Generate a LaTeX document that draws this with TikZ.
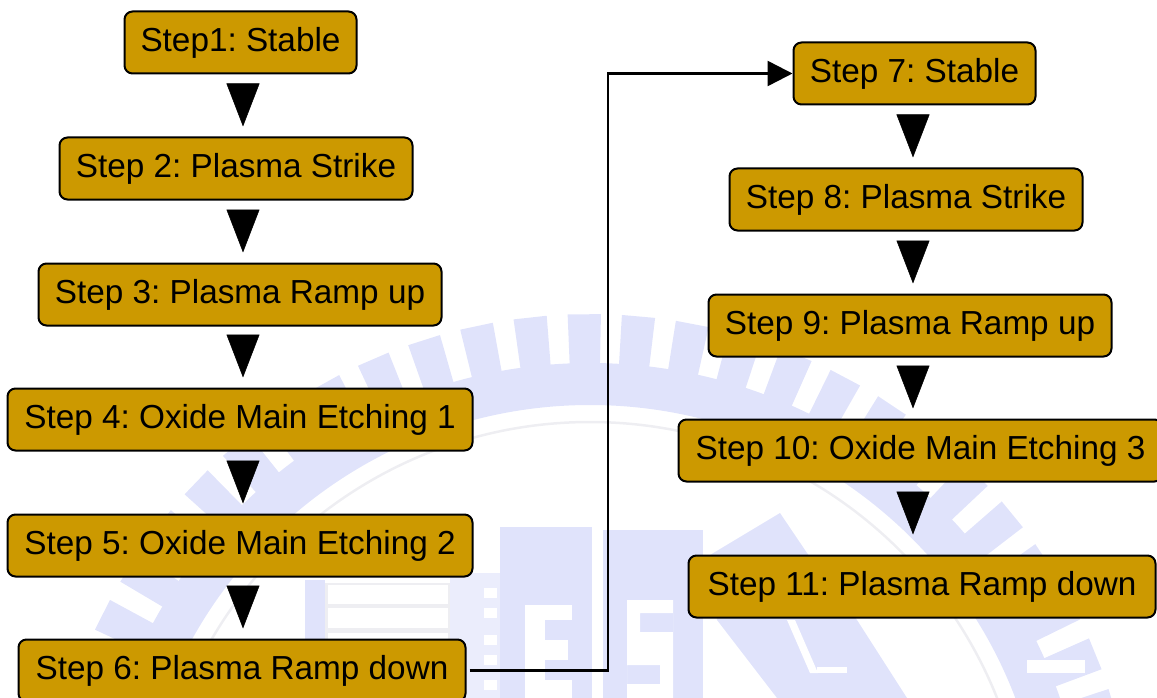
\documentclass[tikz,border=0pt]{standalone}
\usepackage{fontspec}
\setmainfont{Liberation Sans}
\usetikzlibrary{arrows.meta,calc}
\definecolor{boxfill}{HTML}{CC9900}
\definecolor{wm}{HTML}{E0E3FB}
\definecolor{wmlight}{HTML}{EBEDFC}
\definecolor{wmgrey}{HTML}{EEEEF2}
\tikzset{
  x=1pt,y=-1pt,
  stepbox/.style={draw=black,line width=2pt,rounded corners=8pt,fill=boxfill,inner sep=0pt,
    font=\fontsize{33.3}{38}\selectfont,text=black,anchor=center},
  flowarrow/.style={line width=0.5pt,-{Triangle[length=43pt,width=33pt,sep=0pt]}},
  jumpline/.style={line width=2.5pt,-{Triangle[length=25pt,width=25pt,sep=0pt]},shorten <=3pt},
}
\newcommand{\stepnode}[6]{%
  \pgfmathsetmacro{\cxx}{(#2+#4)/2}\pgfmathsetmacro{\cyy}{(#3+#5)/2}%
  \pgfmathsetmacro{\ww}{#4-#2-1}\pgfmathsetmacro{\hh}{#5-#3-1}%
  \node[stepbox,minimum width=\ww pt,minimum height=\hh pt] (#1) at (\cxx,\cyy) {#6};}
\begin{document}
\frenchspacing
\begin{tikzpicture}
\useasboundingbox (0,0) rectangle (1157,698);
\clip (0,0) rectangle (1157,698);
% pale watermark behind the diagram
\begin{scope}
  \coordinate (wc) at (590,860);
  \foreach \k in {-14,...,14}{
    \pgfmathsetmacro{\a}{-90.6+\k*5.7}
    \fill[wm] ($(wc)+(\a-1.75:490)$) -- ($(wc)+(\a-1.75:546)$) -- ($(wc)+(\a+1.75:546)$) -- ($(wc)+(\a+1.75:490)$) -- cycle;
  }
  \fill[wm,even odd rule] (wc) circle[radius=497] (wc) circle[radius=455];
  \draw[wmgrey,line width=2.5pt] (wc) circle[radius=438];
  % central block
  \fill[wm] (500,527) rectangle (592,698);
  \fill[wm] (603,530) rectangle (703,698);
  \fill[wmlight] (450,573) rectangle (500,698);
  % left panel
  \fill[wm] (305,580) rectangle (325,698);
  \fill[wmgrey] (325,583) rectangle (450,698);
  \fill[white] (328,585) rectangle (448,604);
  \fill[white] (328,608) rectangle (448,628);
  \fill[white] (328,633) rectangle (448,698);
  % dots
  \foreach \y in {593,613,640,660,685}
    \fill[white] (484,\y-5) rectangle (497,\y+5);
  % letter-like marks
  \fill[white] (525,605) rectangle (572,620);
  \fill[white] (525,640) rectangle (568,660);
  \fill[white] (525,680) rectangle (572,698);
  \fill[white] (525,605) rectangle (545,698);
  \fill[white,even odd rule] (627,600) rectangle (673,698) (640,613) rectangle (673,632) (627,665) rectangle (660,684);
  % A-shaped mark
  \fill[wm] (780,513) -- (710,555) -- (717,620) -- (777,698) -- (907,698) -- (857,620) -- (807,553) -- cycle;
  \fill[white] (787,620) -- (795,620) -- (818,673) -- (810,673) -- cycle;
  \fill[white] (817,667) rectangle (847,673);
  % notches in the band
  \fill[white] (1027,660) rectangle (1085,673);
\end{scope}
\stepnode{n1}{124}{11}{357}{74}{Step1: Stable}
\stepnode{n2}{59}{137}{413}{200}{Step 2: Plasma Strike}
\stepnode{n3}{38}{263}{442}{326}{Step 3: Plasma Ramp up}
\stepnode{n4}{7}{388}{473}{451}{Step 4: Oxide Main Etching 1}
\stepnode{n5}{7}{514}{473}{577}{Step 5: Oxide Main Etching 2}
\stepnode{n6}{18}{639}{466}{702}{Step 6: Plasma Ramp down}
\stepnode{n7}{793}{42}{1036}{105}{Step 7: Stable}
\stepnode{n8}{729}{168}{1083}{231}{Step 8: Plasma Strike}
\stepnode{n9}{708}{294}{1112}{357}{Step 9: Plasma Ramp up}
\stepnode{n10}{678}{419}{1163}{482}{Step 10: Oxide Main Etching 3}
\stepnode{n11}{688}{555}{1156}{618}{Step 11: Plasma Ramp down}
\coordinate (lx) at (243,0);
\coordinate (rx) at (913,0);
\coordinate (mid) at (608,0);
\foreach \p/\q in {n1/n2,n2/n3,n3/n4,n4/n5,n5/n6}
  \draw[flowarrow,shorten <=10pt,shorten >=10pt] (lx |- \p.south) -- (lx |- \q.north);
\foreach \p/\q in {n7/n8,n8/n9,n9/n10}
  \draw[flowarrow,shorten <=10pt,shorten >=10pt] (rx |- \p.south) -- (rx |- \q.north);
\draw[flowarrow,shorten <=10pt,shorten >=20pt] (rx |- n10.south) -- (rx |- n11.north);
\draw[jumpline] (n6.east) -- (mid |- n6.east) -- (mid |- n7.west) -- (n7.west);
\end{tikzpicture}
\end{document}
